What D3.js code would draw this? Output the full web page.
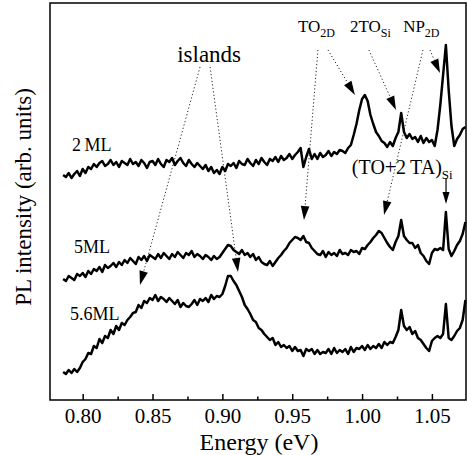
<!DOCTYPE html>
<html>
<head>
<meta charset="utf-8">
<script src="https://cdn.jsdelivr.net/npm/d3@7"></script>
<style>
  html, body { margin: 0; padding: 0; background: #fff; }
  svg { display: block; }
  text { font-family: "Liberation Serif", "Times New Roman", serif; fill: #000; }
</style>
</head>
<body>
<svg id="chart" width="467" height="455"></svg>
<script>
// ---- data ----
const energy = [
0.786,0.788,0.790,0.792,0.794,0.796,0.798,0.800,0.802,0.804,
0.806,0.808,0.810,0.812,0.814,0.816,0.818,0.820,0.822,0.824,
0.826,0.828,0.830,0.832,0.834,0.836,0.838,0.840,0.842,0.844,
0.846,0.848,0.850,0.852,0.854,0.856,0.858,0.860,0.862,0.864,
0.866,0.868,0.870,0.872,0.874,0.876,0.878,0.880,0.882,0.884,
0.886,0.888,0.890,0.892,0.894,0.896,0.898,0.900,0.902,0.904,
0.906,0.908,0.910,0.912,0.914,0.916,0.918,0.920,0.922,0.924,
0.926,0.928,0.930,0.932,0.934,0.936,0.938,0.940,0.942,0.944,
0.946,0.948,0.950,0.952,0.954,0.956,0.958,0.960,0.962,0.964,
0.966,0.968,0.970,0.972,0.974,0.976,0.978,0.980,0.982,0.984,
0.986,0.988,0.990,0.992,0.994,0.996,0.998,1.000,1.002,1.004,
1.006,1.008,1.010,1.012,1.014,1.016,1.018,1.020,1.022,1.024,
1.026,1.028,1.030,1.032,1.034,1.036,1.038,1.040,1.042,1.044,
1.046,1.048,1.050,1.052,1.054,1.056,1.058,1.060,1.062,1.064,
1.066,1.068,1.070,1.072,1.074];

const pl2ML = [
225,223,227,222,226,229,224,231,227,233,
231,236,233,237,239,234,236,240,235,238,
233,239,237,235,241,236,238,234,240,237,
232,238,239,235,241,236,233,240,238,242,
235,239,242,237,234,240,236,233,237,234,
231,235,229,233,227,230,226,233,229,236,
234,237,232,239,236,235,241,237,234,240,
236,242,238,235,241,239,243,238,244,240,
242,246,241,245,248,252,233,243,251,241,
246,241,247,243,245,249,244,248,246,250,
249,247,252,255,265,276,290,301,305,299,
285,276,268,264,259,257,253,258,254,262,
268,287,268,262,266,261,263,258,264,257,
262,258,260,254,270,295,325,355,310,274,
254,261,265,271,273];

const pl5ML = [
121,119,124,122,120,126,124,127,123,129,
126,131,129,133,128,135,132,134,137,133,
138,135,140,137,142,139,136,143,140,144,
139,145,143,141,146,142,147,144,141,146,
143,148,145,142,147,145,149,143,146,144,
141,145,143,140,144,141,143,147,151,155,
154,150,148,146,150,145,147,143,146,140,
143,138,136,135,139,134,138,142,145,149,
152,157,160,163,162,160,164,158,157,152,
149,146,145,149,143,148,145,147,144,150,
146,147,145,150,148,149,146,152,151,155,
158,162,165,169,167,162,157,153,150,158,
164,180,164,160,157,157,152,155,147,144,
139,136,147,151,150,152,150,188,151,144,
149,155,159,166,178];

const pl56ML = [
28,26,30,27,31,28,32,38,41,47,
46,54,52,61,57,64,62,70,66,74,
70,77,75,80,83,87,88,95,92,99,
97,102,100,105,99,103,101,98,102,99,
96,100,93,97,94,93,96,100,95,101,
99,102,98,105,101,104,103,106,114,124,
124,119,115,109,103,95,91,86,80,78,
72,70,66,63,60,62,55,58,53,55,
52,54,49,53,49,50,44,51,49,51,
46,50,46,48,47,51,46,52,47,50,
48,51,46,53,48,52,51,54,50,55,
51,54,52,56,52,58,55,58,57,63,
70,90,74,70,73,66,69,62,60,56,
52,49,59,62,64,62,66,96,62,60,
64,69,72,80,100];

const majorTicks = [0.80, 0.85, 0.90, 0.95, 1.00, 1.05];
const minorTicks = [0.825, 0.875, 0.925, 0.975, 1.025];
const tickLabels = ["0.80", "0.85", "0.90", "0.95", "1.00", "1.05"];

// series labels: [text, energy, intensity]
const seriesLabels = [
  ["2\u2009ML", 0.7923, 249],
  ["5ML", 0.7938, 147],
  ["5.6ML", 0.7909, 80]
];

// dotted annotation arrows: [fromE, fromI, toE, toI]
const dottedArrows = [
  [0.8840, 333, 0.8410, 115],
  [0.8912, 333, 0.9112, 128],
  [0.9684, 350, 0.9584, 180],
  [0.9756, 350, 0.9949, 305],
  [1.0049, 350, 1.0243, 290],
  [1.0436, 350, 1.0157, 185],
  [1.0486, 350, 1.0558, 327]
];
const solidArrows = [
  [1.0601, 222, 1.0601, 196]
];

// peak labels: [main, sub, energy(start), intensity(baseline), fontSize, subSize]
const peakLabels = [
  ["TO", "2D", 0.9541, 368, 17, 12],
  ["2TO", "Si", 0.9913, 368, 17, 12],
  ["NP", "2D", 1.0294, 368, 17, 12],
  ["(TO+2\u2009TA)", "Si", 0.9927, 226, 20, 13]
];
const islandsLabel = ["islands", 0.8905, 338];

// ---- scales ----
const mLeft = 50, mRight = 466, mTop = 3, mBottom = 400;
const x = d3.scaleLinear().domain([0.7766, 1.0744]).range([mLeft, mRight]);
const y = d3.scaleLinear().domain([0, 397]).range([mBottom, mTop]);

const svg = d3.select("#chart");

// frame
svg.append("rect")
  .attr("x", mLeft).attr("y", mTop)
  .attr("width", mRight - mLeft).attr("height", mBottom - mTop)
  .attr("fill", "none").attr("stroke", "#000").attr("stroke-width", 1.5);

// bottom axis (inward ticks)
const axis = d3.axisBottom(x).tickValues(majorTicks)
  .tickSize(-6).tickPadding(8)
  .tickFormat((d, i) => tickLabels[i]);
const gx = svg.append("g").attr("transform", `translate(0,${mBottom})`).call(axis);
gx.select(".domain").remove();
gx.selectAll(".tick line").attr("stroke", "#000").attr("stroke-width", 1.5);
gx.selectAll(".tick text")
  .attr("font-family", "Liberation Serif, serif")
  .attr("font-size", 21).attr("fill", "#000");

const minor = d3.axisBottom(x).tickValues(minorTicks).tickSize(-3.5).tickFormat("");
const gm = svg.append("g").attr("transform", `translate(0,${mBottom})`).call(minor);
gm.select(".domain").remove();
gm.selectAll(".tick line").attr("stroke", "#000").attr("stroke-width", 1.5);

// axis titles
svg.append("text")
  .attr("x", (mLeft + mRight) / 2 + 1).attr("y", 450)
  .attr("text-anchor", "middle").attr("font-size", 24)
  .text("Energy (eV)");
svg.append("text")
  .attr("transform", `translate(31,197) rotate(-90)`)
  .attr("text-anchor", "middle").attr("font-size", 23)
  .text("PL intensity (arb. units)");

// curves
const line = d3.line()
  .x((d, i) => x(energy[i]))
  .y(d => y(d));
[pl2ML, pl5ML, pl56ML].forEach(s => {
  svg.append("path")
    .datum(s)
    .attr("d", line)
    .attr("fill", "none")
    .attr("stroke", "#000")
    .attr("stroke-width", 2.5)
    .attr("stroke-linejoin", "round");
});

// arrows
function arrow(a, dotted, L, w) {
  const x1 = x(a[0]), y1 = y(a[1]), x2 = x(a[2]), y2 = y(a[3]);
  const dx = x2 - x1, dy = y2 - y1, len = Math.hypot(dx, dy);
  const ux = dx / len, uy = dy / len, nx = -uy, ny = ux;
  const bx = x2 - L * ux, by = y2 - L * uy;
  svg.append("line")
    .attr("x1", x1).attr("y1", y1).attr("x2", bx).attr("y2", by)
    .attr("stroke", "#000").attr("stroke-width", dotted ? 1 : 1.2)
    .attr("stroke-dasharray", dotted ? "1.2,2.3" : null)
    .attr("opacity", dotted ? 0.85 : 1);
  svg.append("path")
    .attr("d", `M${x2},${y2}L${bx + w * nx},${by + w * ny}L${bx - w * nx},${by - w * ny}Z`)
    .attr("fill", "#000");
}
dottedArrows.forEach(a => arrow(a, true, 14, 4.3));
solidArrows.forEach(a => arrow(a, false, 12, 3.5));

// series labels
seriesLabels.forEach(l => {
  svg.append("text")
    .attr("x", x(l[1])).attr("y", y(l[2]))
    .attr("font-size", 18)
    .text(l[0]);
});

// islands label
svg.append("text")
  .attr("x", x(islandsLabel[1])).attr("y", y(islandsLabel[2]))
  .attr("text-anchor", "middle").attr("font-size", 23)
  .text(islandsLabel[0]);

// peak labels with subscripts
peakLabels.forEach(p => {
  const t = svg.append("text")
    .attr("x", x(p[2])).attr("y", y(p[3]))
    .attr("font-size", p[4]);
  t.append("tspan").text(p[0]);
  t.append("tspan").attr("font-size", p[5]).attr("dy", 5).text(p[1]);
});
</script>
</body>
</html>
